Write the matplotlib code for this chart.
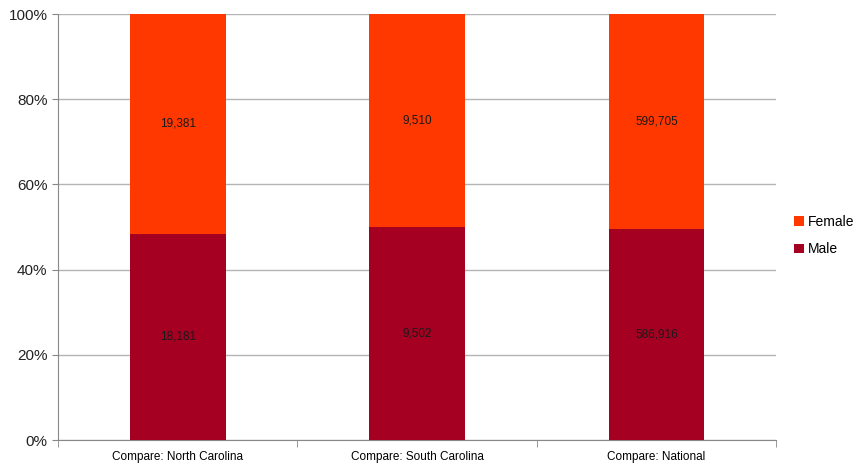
import numpy as np
import matplotlib.pyplot as plt
from matplotlib.ticker import PercentFormatter

plt.rcParams['font.family'] = ['Liberation Sans Narrow', 'Liberation Sans', 'DejaVu Sans']

categorias = ['Compare: North Carolina', 'Compare: South Carolina', 'Compare: National']
male = np.array([18181, 9502, 586916])
female = np.array([19381, 9510, 599705])

total = male + female
male_pct = male / total * 100
female_pct = female / total * 100

fig = plt.figure(figsize=(8.55, 4.68), dpi=100)
ax = fig.add_axes([0.0678, 0.0598, 0.84, 0.9102])

x = np.arange(len(categorias))
ancho = 0.4
b1 = ax.bar(x, male_pct, ancho, color='#A50021', label='Male', zorder=3)
b2 = ax.bar(x, female_pct, ancho, bottom=male_pct, color='#FF3800', label='Female', zorder=3)

for i in range(len(x)):
    ax.text(x[i], male_pct[i] / 2, f'{male[i]:,}', ha='center', va='center', fontsize=8.5, color='#1a1a1a', zorder=4)
    ax.text(x[i], male_pct[i] + female_pct[i] / 2, f'{female[i]:,}', ha='center', va='center', fontsize=8.5, color='#1a1a1a', zorder=4)

ax.set_xlim(-0.5, len(x) - 0.5)
ax.set_ylim(0, 100)
ax.set_yticks(np.arange(0, 101, 20))
ax.yaxis.set_major_formatter(PercentFormatter(decimals=0))
ax.grid(axis='y', color='#b4b4b4', linewidth=1, zorder=0)

ax.set_xticks(x)
ax.set_xticklabels(categorias, fontsize=8.5)
ax.tick_params(axis='x', length=0, pad=8)
ax.set_xticks(np.arange(-0.5, len(x), 1), minor=True)
ax.tick_params(axis='x', which='minor', length=5, color='#888888')
ax.tick_params(axis='y', labelsize=11, length=4, color='#888888', labelcolor='#222222')

for s in ['top', 'right']:
    ax.spines[s].set_visible(False)
for s in ['left', 'bottom']:
    ax.spines[s].set_color('#888888')

handles = [b2, b1]
ax.legend(handles, ['Female', 'Male'], loc='center left', bbox_to_anchor=(1.025, 0.48), frameon=False,
          fontsize=10, handlelength=0.7, handleheight=0.7, handletextpad=0.3, labelspacing=1.0,
          borderaxespad=0, borderpad=0)

fig.savefig('out.png', dpi=100)
